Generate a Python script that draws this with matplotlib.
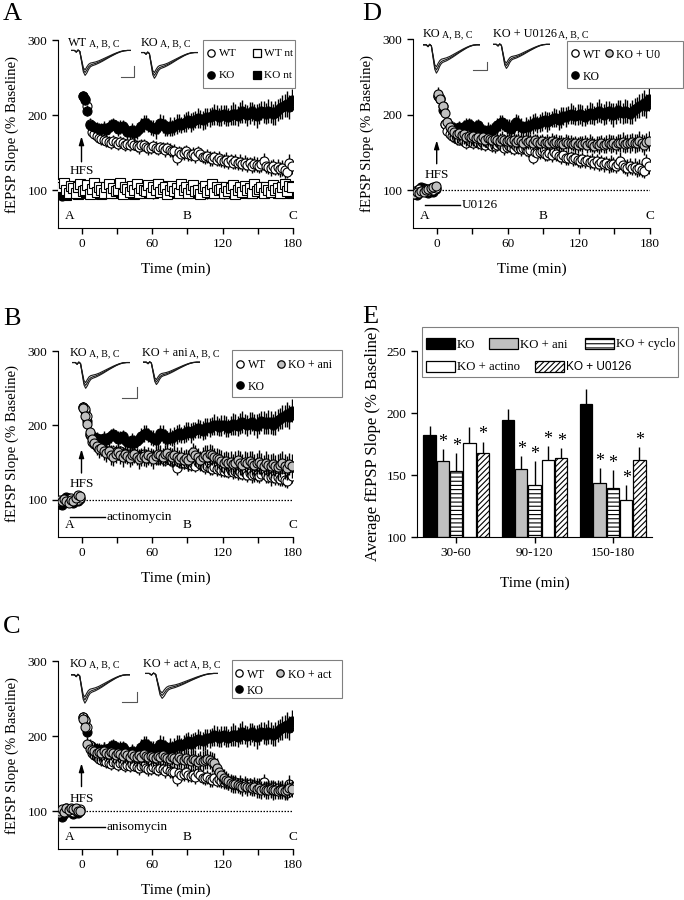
import numpy as np
import matplotlib.pyplot as plt
from matplotlib.patches import Rectangle

plt.rcParams['font.family'] = ['Liberation Serif', 'DejaVu Serif']
plt.rcParams['hatch.linewidth'] = 0.8

# ---------------------------------------------------------------- time grid
T_BASE = np.arange(-19, 0, 2)      # baseline samples (min)
T_POST = np.arange(1, 180, 2)      # post-HFS samples (min)
T_ALL = np.arange(-19, 180, 2)     # non-tetanized controls

# ---------------------------------------------------------------- time courses (% baseline)
WT_POST = [225, 222, 212, 188, 178, 175, 172, 170, 168, 167,
           166, 165, 163, 166, 164, 162, 165, 163, 161, 162,
           160, 163, 161, 159, 158, 160, 161, 158, 156, 157,
           159, 157, 155, 158, 156, 154, 156, 154, 152, 153,
           143, 151, 149, 150, 152, 148, 147, 149, 146, 151,
           148, 145, 144, 146, 143, 142, 144, 141, 143, 140,
           139, 141, 138, 140, 137, 139, 136, 138, 135, 137,
           134, 136, 133, 135, 134, 132, 135, 139, 133, 131,
           130, 132, 129, 131, 128, 130, 127, 125, 137, 132]
WT_SEM = [7, 7, 7, 8, 7, 7, 8, 7, 8, 7,
          8, 7, 8, 8, 7, 8, 7, 8, 8, 7,
          8, 8, 7, 8, 9, 8, 7, 8, 9, 8,
          8, 9, 8, 7, 8, 9, 8, 9, 8, 9,
          9, 8, 9, 9, 8, 9, 8, 9, 9, 8,
          9, 8, 9, 9, 10, 9, 8, 9, 10, 9,
          9, 10, 9, 8, 9, 10, 9, 10, 9, 10,
          10, 9, 10, 11, 10, 9, 10, 11, 10, 9,
          11, 10, 9, 11, 10, 11, 10, 9, 11, 10]

KO_POST = [225, 220, 206, 187, 186, 184, 183, 182, 181, 183,
           180, 184, 186, 188, 185, 182, 184, 186, 181, 178,
           177, 180, 176, 179, 182, 186, 189, 190, 187, 184,
           183, 181, 185, 190, 188, 184, 182, 185, 183, 186,
           188, 190, 187, 189, 191, 193, 190, 192, 194, 196,
           195, 193, 196, 198, 197, 199, 201, 200, 198, 200,
           201, 199, 197, 200, 202, 201, 199, 203, 205, 202,
           200, 203, 205, 201, 199, 202, 206, 204, 202, 205,
           204, 201, 203, 207, 209, 211, 213, 215, 211, 220]
KO_SEM = [6, 6, 7, 6, 7, 8, 8, 7, 8, 9,
          8, 9, 9, 8, 9, 10, 9, 8, 9, 10,
          9, 10, 11, 10, 9, 10, 11, 10, 9, 10,
          11, 12, 10, 11, 12, 11, 10, 12, 11, 12,
          13, 12, 11, 12, 13, 12, 13, 12, 11, 13,
          12, 13, 14, 12, 13, 12, 14, 13, 12, 14,
          13, 14, 12, 13, 15, 14, 13, 14, 15, 13,
          14, 15, 13, 14, 16, 14, 13, 15, 14, 16,
          15, 14, 16, 15, 14, 16, 15, 17, 16, 15]

ANI_POST = [224, 213, 202, 191, 182, 176, 172, 168, 170, 165,
            163, 166, 160, 158, 162, 164, 160, 157, 161, 159,
            156, 160, 162, 158, 155, 157, 159, 156, 160, 158,
            155, 159, 162, 160, 157, 161, 163, 159, 157, 160,
            158, 155, 157, 154, 156, 153, 158, 164, 160, 157,
            154, 157, 160, 158, 161, 160, 158, 156, 155, 152,
            150, 152, 149, 151, 148, 150, 153, 150, 147, 151,
            149, 152, 150, 147, 149, 151, 148, 146, 149, 147,
            145, 148, 146, 144, 147, 150, 145, 143, 148, 145]
ANI_SEM = [8, 8, 9, 9, 10, 11, 12, 12, 11, 12,
           12, 11, 13, 12, 12, 11, 12, 13, 12, 11,
           12, 13, 12, 11, 13, 12, 13, 12, 11, 12,
           13, 12, 14, 13, 12, 13, 14, 12, 13, 14,
           13, 12, 14, 13, 12, 14, 13, 12, 14, 13,
           12, 14, 13, 15, 14, 13, 12, 14, 13, 15,
           14, 13, 15, 14, 13, 15, 14, 16, 15, 14,
           15, 14, 16, 15, 14, 16, 15, 14, 16, 15,
           16, 15, 14, 17, 16, 15, 17, 16, 15, 16]

ACT_POST = [223, 212, 190, 183, 181, 180, 178, 179, 177, 180,
            178, 176, 179, 177, 175, 178, 176, 174, 177, 175,
            173, 176, 174, 172, 175, 173, 176, 174, 172, 174,
            173, 171, 174, 172, 175, 173, 171, 170, 173, 171,
            169, 172, 170, 168, 171, 169, 167, 170, 168, 166,
            168, 167, 169, 170, 168, 166, 165, 158, 152, 148,
            145, 142, 140, 138, 137, 136, 135, 134, 133, 134,
            132, 133, 131, 132, 130, 131, 129, 130, 128, 129,
            130, 128, 129, 127, 128, 129, 127, 128, 131, 130]
ACT_SEM = [8, 8, 9, 10, 11, 12, 11, 12, 11, 12,
           11, 12, 11, 12, 11, 12, 12, 11, 12, 12,
           11, 12, 12, 11, 12, 13, 12, 11, 12, 13,
           12, 11, 12, 13, 12, 12, 13, 12, 11, 12,
           12, 13, 12, 11, 13, 12, 13, 12, 13, 12,
           12, 13, 12, 13, 12, 13, 12, 13, 12, 11,
           11, 12, 11, 12, 12, 11, 10, 11, 12, 11,
           12, 11, 10, 11, 12, 13, 12, 11, 12, 13,
           12, 13, 12, 11, 12, 13, 12, 13, 12, 11]

U0_POST = [227, 220, 211, 202, 190, 183, 180, 177, 175, 176,
           173, 174, 171, 172, 170, 172, 169, 171, 168, 170,
           167, 169, 168, 166, 168, 167, 165, 168, 166, 165,
           167, 165, 166, 164, 166, 165, 163, 166, 164, 165,
           163, 166, 164, 162, 165, 163, 164, 162, 165, 163,
           164, 162, 163, 161, 164, 162, 163, 161, 162, 160,
           162, 161, 163, 160, 162, 161, 159, 161, 160, 162,
           160, 161, 163, 161, 162, 160, 163, 162, 164, 161,
           163, 162, 164, 162, 163, 165, 163, 160, 164, 165]
U0_SEM = [9, 9, 10, 11, 12, 12, 12, 13, 12, 11,
          12, 13, 12, 11, 12, 13, 12, 11, 12, 11,
          10, 11, 10, 11, 10, 10, 11, 10, 9, 10,
          10, 9, 10, 11, 10, 9, 10, 10, 9, 10,
          10, 9, 10, 11, 10, 9, 10, 10, 11, 10,
          10, 11, 10, 9, 10, 11, 10, 9, 10, 11,
          10, 11, 10, 11, 12, 11, 10, 11, 12, 11,
          11, 12, 11, 12, 11, 12, 11, 12, 13, 12,
          12, 13, 12, 13, 12, 13, 12, 13, 12, 13]

WT_BASE = [98, 100, 101, 99, 100, 102, 99, 101, 100, 103]
KO_BASE = [95, 93, 97, 104, 103, 99, 96, 100, 98, 101]
ANI_BASE = [100, 98, 101, 99, 96, 100, 98, 103, 107, 105]
ACT_BASE = [101, 103, 99, 104, 102, 105, 103, 104, 101, 100]
U0_BASE = [95, 97, 96, 99, 98, 100, 101, 103, 104, 106]
BASE_SEM = [4, 3, 4, 5, 3, 4, 3, 4, 3, 4]

WT_NT = [108, 104, 110, 100, 97, 106, 103, 96, 104, 109,
         99, 101, 107, 95, 102, 110, 98, 104, 100, 96,
         105, 108, 97, 103, 99, 101, 110, 95, 104, 102,
         98, 106, 100, 109, 97, 103, 101, 99, 107, 96,
         104, 100, 109, 98, 102, 105, 95, 101, 106, 99,
         103, 97, 108, 100, 104, 96, 102, 107, 99, 101,
         95, 103, 106, 98, 101, 109, 97, 104, 100, 102,
         96, 105, 99, 103, 107, 95, 101, 104, 98, 106,
         100, 103, 97, 108, 99, 102, 104, 96, 105, 101,
         98, 107, 100, 103, 96, 104, 109, 99, 106, 105]
KO_NT = [96, 99, 101, 94, 100, 97, 102, 98, 95, 100,
         103, 96, 99, 101, 97, 104, 98, 100, 95, 102,
         99, 97, 103, 100, 96, 101, 98, 104, 99, 97,
         102, 100, 95, 103, 98, 101, 97, 100, 104, 99,
         96, 102, 108, 103, 106, 100, 104, 99, 101, 97,
         103, 100, 98, 102, 96, 101, 99, 104, 97, 100,
         98, 102, 99, 96, 103, 100, 97, 101, 99, 104,
         100, 97, 102, 99, 96, 103, 98, 101, 100, 97,
         102, 99, 96, 101, 104, 98, 100, 97, 103, 99,
         101, 98, 102, 96, 100, 103, 99, 97, 101, 96]
NT_SEM = [5, 6, 5, 4, 6, 5, 7, 5, 6, 5,
          6, 5, 7, 6, 5, 6, 5, 6, 7, 5,
          6, 7, 5, 6, 5, 7, 6, 5, 6, 7,
          5, 6, 7, 5, 6, 5, 6, 7, 5, 6,
          7, 6, 5, 7, 6, 5, 6, 7, 6, 5,
          6, 5, 7, 6, 5, 6, 7, 5, 6, 7,
          6, 5, 6, 7, 5, 6, 5, 7, 6, 5,
          7, 6, 5, 6, 7, 5, 6, 5, 7, 6,
          5, 7, 6, 5, 6, 7, 5, 6, 5, 7,
          6, 5, 7, 6, 5, 6, 7, 5, 6, 5]

# sample fEPSP traces (arbitrary units) at time points A, B, C
TRACE_T = [0, 2, 3, 4, 5, 6, 7, 8, 9, 10, 11, 12, 14, 16, 18, 20, 22, 24, 26, 28, 30, 32, 34]
TRACE_1 = [0, 0, -0.08, 0.02, -0.05, -0.45, -0.85, -0.95, -0.8, -0.68, -0.62, -0.6,
           -0.56, -0.5, -0.42, -0.34, -0.26, -0.18, -0.11, -0.05, -0.01, 0.0, 0.0]
TRACE_2 = [0, 0, -0.08, 0.02, -0.05, -0.5, -0.95, -1.08, -0.95, -0.8, -0.72, -0.68,
           -0.63, -0.56, -0.48, -0.39, -0.3, -0.21, -0.13, -0.06, -0.02, 0.0, 0.0]
TRACE_3 = [0, 0, -0.08, 0.02, -0.05, -0.55, -1.05, -1.22, -1.1, -0.92, -0.8, -0.75,
           -0.69, -0.61, -0.52, -0.42, -0.32, -0.23, -0.14, -0.07, -0.02, 0.0, 0.0]

ABC_TIMES = [-10, 90, 180]
ABC_LABELS = ['A', 'B', 'C']

# ---------------------------------------------------------------- panel E averages
E_GROUPS = ['30-60', '90-120', '150-180']
KO_AVG = [182, 194, 207]
ANI_AVG = [161, 155, 143.5]
CYCLO_AVG = [153, 142, 139.5]
ACTINO_AVG = [176, 162, 129.5]
U0126_AVG = [167.5, 163.5, 162]
KO_ERR = [7.5, 9.5, 12]
ANI_ERR = [10, 10.5, 12]
CYCLO_ERR = [15, 19, 14.5]
ACTINO_ERR = [13, 11, 12.5]
U0126_ERR = [9.5, 8, 10.5]
KO_SIG = [0, 0, 0]
ANI_SIG = [1, 1, 1]
CYCLO_SIG = [1, 1, 1]
ACTINO_SIG = [0, 1, 1]
U0126_SIG = [1, 1, 1]

GRAY = '#c0c0c0'
W, H = 684, 900
fig = plt.figure(figsize=(W / 100, H / 100), dpi=100)

# full-figure overlay in pixel units (y down) for legends, labels, scale bars
ov = fig.add_axes([0, 0, 1, 1])
ov.set_xlim(0, W)
ov.set_ylim(H, 0)
ov.axis('off')
ov.set_zorder(10)


def box(left, top, right, bottom):
    return [left / W, 1 - bottom / H, (right - left) / W, (bottom - top) / H]


def series(ax, t, y, e, face, marker='o', z=3):
    ax.errorbar(t, y, yerr=e, fmt=marker, ms=6.5, mfc=face, mec='black', mew=0.8,
                ecolor='black', elinewidth=1, capsize=0, zorder=z)


def setup_time_axes(ax):
    ax.set_xlim(-20, 180)
    ax.set_ylim(50, 300)
    for s in ['top', 'right']:
        ax.spines[s].set_visible(False)
    ax.set_xticks([0, 60, 120, 180])
    ax.set_xticks([30, 90, 150], minor=True)
    ax.set_yticks([100, 200, 300])
    ax.tick_params(which='both', direction='out', length=4, width=1, labelsize=9.5)
    ax.set_xlabel('Time (min)', fontsize=11)
    ax.xaxis.set_label_coords(0.5, -0.185)
    ax.set_ylabel('fEPSP Slope (% Baseline)', fontsize=10.7)
    ax.yaxis.set_label_coords(-0.165, 0.5)
    for x, lab in zip(ABC_TIMES, ABC_LABELS):
        ax.text(x, 58, lab, ha='center', va='bottom', fontsize=9.5)


def hfs(ax, tail, head, text_top):
    ax.annotate('', xy=(0, head), xytext=(0, tail),
                arrowprops=dict(arrowstyle='-|>,head_width=0.15,head_length=0.5',
                                lw=1, color='black', shrinkA=0, shrinkB=0))
    ax.text(0, text_top, 'HFS', ha='center', va='top', fontsize=9.5)


def drug(ax, y, name):
    ax.plot([-10, 20], [y, y], color='black', lw=1)
    ax.text(21, y, name, ha='left', va='center', fontsize=9.5)


def traces(left, top, right, bottom, bar=None):
    ia = fig.add_axes(box(left, top, right, bottom))
    for tr in (TRACE_1, TRACE_2, TRACE_3):
        ia.plot(TRACE_T, tr, color='#1a1a1a', lw=0.8)
    ia.set_xlim(0, 34)
    ia.set_ylim(-1.3, 0.12)
    ia.axis('off')
    if bar is not None:
        bx0, by0, bx1, by1 = bar
        ov.plot([bx1, bx1, bx0], [by0, by1, by1], color='#555555', lw=0.8)


renderer = fig.canvas.get_renderer()


def trace_label(x, y, name):
    t = ov.text(x, y, name, fontsize=8.8, va='baseline', ha='left')
    ext = t.get_window_extent(renderer=renderer)
    ov.text(ext.x1 + 1.5, y, 'A, B, C', fontsize=7.2, va='baseline', ha='left')


def legend_box(left, top, right, bottom, entries, fs=8.5):
    ov.add_patch(Rectangle((left, top), right - left, bottom - top, facecolor='white',
                           edgecolor='#808080', lw=0.8))
    for marker, face, x, y, label in entries:
        ov.plot([x], [y], ls='none', marker=marker, ms=5.3, mfc=face, mec='black', mew=0.9)
        ov.text(x + 7.5, y, label, ha='left', va='center_baseline', fontsize=fs)


def letter(x, y, s):
    ov.text(x, y, s, fontsize=19, ha='left', va='top')


# ================================================================ panel A
ax = fig.add_axes(box(58, 40, 293, 228))
setup_time_axes(ax)
series(ax, T_BASE, KO_BASE, BASE_SEM, 'black', z=2)
series(ax, T_POST, KO_POST, KO_SEM, 'black', z=3)
series(ax, T_POST, WT_POST, WT_SEM, 'white', z=2.5)
series(ax, T_ALL, KO_NT, NT_SEM, 'black', marker='s', z=4)
series(ax, T_ALL, WT_NT, NT_SEM, 'white', marker='s', z=4.5)
hfs(ax, 138, 172, 134)
traces(71, 48, 131, 77, bar=(121, 66, 134, 77))
traces(141, 50, 198, 80)
trace_label(68, 46, 'WT')
trace_label(141, 46, 'KO')
legend_box(203, 40, 295, 88, [('o', 'white', 211, 53, 'WT'), ('s', 'white', 257, 53, 'WT nt'),
                              ('o', 'black', 211, 75, 'KO'), ('s', 'black', 257, 75, 'KO nt')],
           fs=8.2)
letter(3, 3, 'A')


# ================================================================ panels B, C, D
def drug_panel(rect, gray_base, gray_post, gray_sem, dotted_start, hfs_args, drug_y, drug_name):
    ax = fig.add_axes(rect)
    setup_time_axes(ax)
    ax.plot([dotted_start, 180], [100, 100], color='black', lw=0.9, ls=(0, (1.2, 1.2)), zorder=1)
    series(ax, T_BASE, KO_BASE, BASE_SEM, 'black', z=2)
    series(ax, T_POST, KO_POST, KO_SEM, 'black', z=2)
    series(ax, T_BASE, WT_BASE, BASE_SEM, 'white', z=3)
    series(ax, T_POST, WT_POST, WT_SEM, 'white', z=3)
    series(ax, T_BASE, gray_base, BASE_SEM, GRAY, z=4)
    series(ax, T_POST, gray_post, gray_sem, GRAY, z=4)
    hfs(ax, *hfs_args)
    drug(ax, drug_y, drug_name)
    return ax


drug_panel(box(58, 351, 293, 537), ANI_BASE, ANI_POST, ANI_SEM, -4, (136, 168, 129), 77, 'actinomycin')
traces(72, 360, 130, 390, bar=(122, 387, 137, 398))
traces(143, 360, 200, 386)
trace_label(70, 356, 'KO')
trace_label(142, 356, 'KO + ani')
legend_box(232, 350, 342, 397, [('o', 'white', 240, 364, 'WT'), ('o', GRAY, 281, 364, 'KO + ani'),
                                ('o', 'black', 240, 385, 'KO')])
letter(3, 308, 'B')

drug_panel(box(58, 661, 293, 849), ACT_BASE, ACT_POST, ACT_SEM, -1, (133, 164, 124), 79, 'anisomycin')
traces(71, 672, 130, 705, bar=(122, 692, 137, 702))
traces(145, 671, 218, 700)
trace_label(70, 667, 'KO')
trace_label(143, 667, 'KO + act')
legend_box(232, 660, 342, 698, [('o', 'white', 239, 673, 'WT'), ('o', GRAY, 280, 673, 'KO + act'),
                                ('o', 'black', 239, 689, 'KO')])
letter(3, 616, 'C')

drug_panel(box(413, 39, 650, 228), U0_BASE, U0_POST, U0_SEM, 2, (135, 166, 128), 81, 'U0126')
traces(423, 42, 480, 75, bar=(473, 62, 487, 70))
traces(493, 42, 550, 70)
trace_label(423, 37, 'KO')
trace_label(493, 37, 'KO + U0126')
legend_box(567, 41, 683, 88, [('o', 'white', 575, 53, 'WT'), ('o', GRAY, 609, 53, 'KO + U0'),
                              ('o', 'black', 575, 75, 'KO')])
letter(362, 3, 'D')

# ================================================================ panel E
ax = fig.add_axes(box(417, 351, 652, 537))
x = np.arange(len(E_GROUPS))
bars = [
    ('KO', KO_AVG, KO_ERR, KO_SIG, 'black', ''),
    ('KO + ani', ANI_AVG, ANI_ERR, ANI_SIG, GRAY, ''),
    ('KO + cyclo', CYCLO_AVG, CYCLO_ERR, CYCLO_SIG, 'white', '----'),
    ('KO + actino', ACTINO_AVG, ACTINO_ERR, ACTINO_SIG, 'white', ''),
    ('KO + U0126', U0126_AVG, U0126_ERR, U0126_SIG, 'white', '//////'),
]
for i, (name, avg, err, sig, face, hatch) in enumerate(bars):
    pos = x + (i - 2) * 0.17
    base = np.full(len(avg), 100.0)
    heights = np.array(avg) - base
    ax.bar(pos, heights, bottom=base, width=0.155, color=face, edgecolor='black',
           linewidth=0.9, hatch=hatch, zorder=2)
    ax.errorbar(pos, avg, yerr=[np.zeros(len(err)), err], fmt='none', ecolor='black',
                elinewidth=1, capsize=0, zorder=1)
    for p, a, e, s in zip(pos, avg, err, sig):
        if s:
            ax.text(p, a + e - 1.5, '*', ha='center', va='bottom', fontsize=13)

ax.set_xlim(-0.5, 2.5)
ax.set_ylim(100, 250)
for s in ['top', 'right']:
    ax.spines[s].set_visible(False)
ax.set_xticks(x)
ax.set_xticklabels(E_GROUPS)
ax.set_yticks([100, 150, 200, 250])
ax.tick_params(direction='out', length=4, width=1, labelsize=9.5)
ax.set_xlabel('Time (min)', fontsize=11)
ax.xaxis.set_label_coords(0.5, -0.21)
ax.set_ylabel('Average fEPSP Slope (% Baseline)', fontsize=12)
ax.yaxis.set_label_coords(-0.155, 0.5)

# legend of panel E: two rows laid out independently, as in the original
ov.add_patch(Rectangle((422, 327), 256, 50, facecolor='white', edgecolor='#808080', lw=0.8))
e_style = {name: (face, hatch) for name, _, _, _, face, hatch in bars}
e_entries = [('KO', 426, 343), ('KO + ani', 489, 343), ('KO + cyclo', 585, 343),
             ('KO + actino', 426, 366), ('KO + U0126', 535, 366)]
for name, hx, hy in e_entries:
    face, hatch = e_style[name]
    ov.add_patch(Rectangle((hx, hy - 5.5), 29, 11, facecolor=face, edgecolor='black',
                           lw=0.9, hatch=hatch))
    fam = ['Liberation Sans', 'DejaVu Sans'] if name == 'KO + U0126' else None
    kw = {'family': fam} if fam else {}
    ov.text(hx + 31, hy, name, ha='left', va='center_baseline',
            fontsize=8.6 if fam else 9.2, **kw)
letter(362, 306, 'E')

fig.savefig('out.png', dpi=100)
